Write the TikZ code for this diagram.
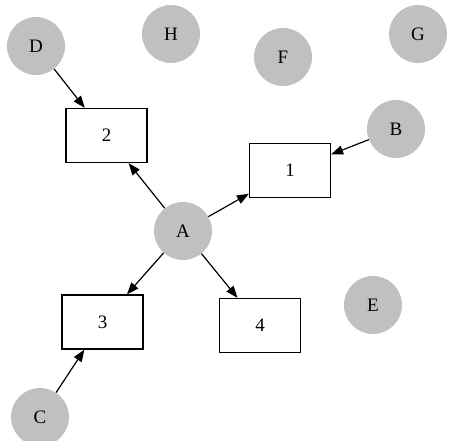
\documentclass[tikz,border=0pt]{standalone}
\usepackage{fontspec}
\setmainfont{Liberation Serif}
\usetikzlibrary{arrows.meta}
\definecolor{nodegray}{RGB}{192,192,192}
\begin{document}
\begin{tikzpicture}[x=1pt,y=-1pt,
  lbl/.style={font=\fontsize{19}{21}\selectfont},
  circ/.style={lbl,circle,fill=nodegray,draw=none,minimum size=58pt,inner sep=0pt},
  box/.style={lbl,rectangle,draw=black,line width=1.2pt,minimum width=81pt,minimum height=54pt,inner sep=0pt},
  arr/.style={-{Triangle[length=12pt,width=9pt]},line width=1.2pt}]
\useasboundingbox (0,0) rectangle (455,441);
\node[circ] (D) at (36,46) {D};
\node[circ] (H) at (171,34) {H};
\node[circ] (F) at (283,57) {F};
\node[circ] (G) at (418,34) {G};
\node[circ] (B) at (396,129) {B};
\node[circ] (A) at (183,231) {A};
\node[circ] (E) at (373,305) {E};
\node[circ] (C) at (40,417) {C};
\node[box] (n2) at (106.5,135.5) {2};
\node[box] (n1) at (290,170.5) {1};
\node[box] (n3) at (102.5,322) {3};
\node[box] (n4) at (260,325.5) {4};
\draw[arr] (D) -- (n2);
\draw[arr] (B) -- (n1);
\draw[arr] (C) -- (n3);
\draw[arr] (A) -- (n1);
\draw[arr] (A) -- (n2);
\draw[arr] (A) -- (n3);
\draw[arr] (A) -- (n4);
\end{tikzpicture}
\end{document}
